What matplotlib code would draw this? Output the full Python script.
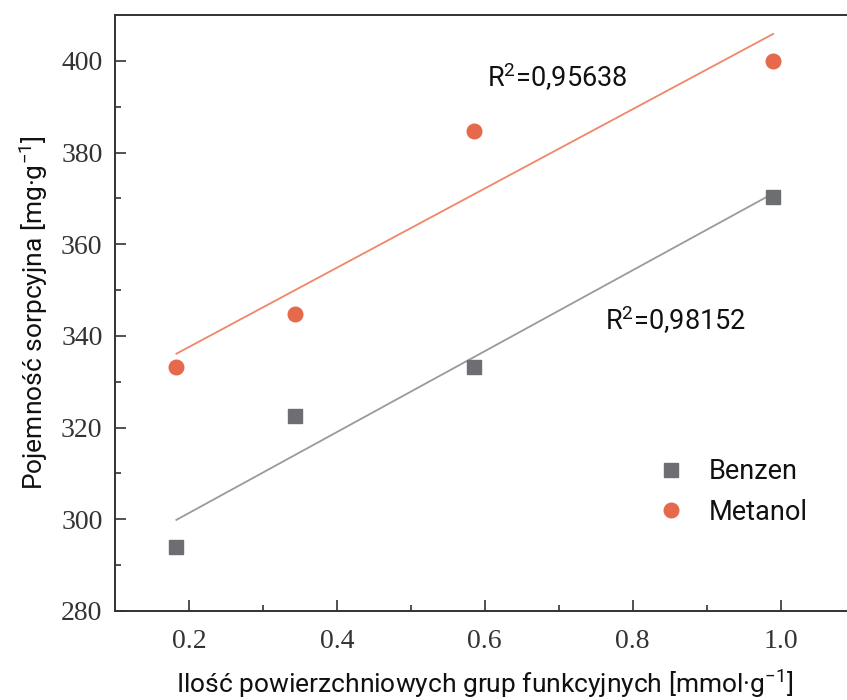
import numpy as np
import matplotlib
matplotlib.use("Agg")
import matplotlib.pyplot as plt

plt.rcParams['font.family'] = ['Roboto', 'DejaVu Sans']
plt.rcParams['mathtext.fontset'] = 'custom'
plt.rcParams['mathtext.rm'] = 'Roboto'
plt.rcParams['mathtext.it'] = 'Roboto:italic'

# functional groups [mmol/g] vs sorption capacity [mg/g]
groups = [0.183, 0.343, 0.585, 0.990]
benzen = [294.0, 322.6, 333.3, 370.4]
metanol = [333.3, 344.8, 384.7, 400.0]
r2_benzen = '0,98152'
r2_metanol = '0,95638'

gray = '#6d6e71'
gray_line = '#9a9a9a'
orange = '#e5694a'
orange_line = '#f0866a'

fig = plt.figure(figsize=(8.47, 7.0), dpi=100)
ax = fig.add_axes([115 / 847, 89 / 700, 739.5 / 847, 596 / 700])

x = np.array(groups)
xx = np.array([x.min(), x.max()])
for y, c_line in [(benzen, gray_line), (metanol, orange_line)]:
    k, b = np.polyfit(x, y, 1)
    ax.plot(xx, k * xx + b, color=c_line, lw=1.3, zorder=2)

ax.plot(groups, benzen, 's', color=gray, ms=9.5, label='Benzen', zorder=3)
ax.plot(groups, metanol, 'o', color=orange, ms=10.5, label='Metanol', zorder=3)

ax.text(0.603, 396.5, 'R$^{2}$=' + r2_metanol, fontsize=19.5, va='center', color='#111111')
ax.text(0.762, 343.5, 'R$^{2}$=' + r2_benzen, fontsize=19.5, va='center', color='#111111')

ax.set_xlim(0.1, 1.1)
ax.set_ylim(280, 410)
ax.set_xticks([0.2, 0.4, 0.6, 0.8, 1.0])
ax.set_xticks([0.3, 0.5, 0.7, 0.9], minor=True)
ax.set_yticks([280, 300, 320, 340, 360, 380, 400])
ax.set_yticks([290, 310, 330, 350, 370, 390], minor=True)

for lab in ax.get_xticklabels() + ax.get_yticklabels():
    lab.set_family('Liberation Serif')
ax.tick_params(which='both', direction='in', colors='#333333', width=1.2)
ax.tick_params(which='major', length=8, labelsize=20, pad=9)
ax.tick_params(axis='x', which='major', pad=13)
ax.tick_params(which='minor', length=4.5)
for s in ax.spines.values():
    s.set_linewidth(1.4)
    s.set_color('#333333')

ax.set_xlabel('Ilość powierzchniowych grup funkcyjnych [mmol·g$^{\\mathregular{-1}}$]',
              fontsize=19, labelpad=10, color='#111111')
ax.set_ylabel('Pojemność sorpcyjna [mg·g$^{\\mathregular{-1}}$]', fontsize=19, labelpad=8,
              color='#111111')

ax.legend(loc='center left', bbox_to_anchor=(0.7, 0.2), frameon=False, fontsize=19.5,
          handlelength=1.0, handletextpad=0.9, labelspacing=0.5, labelcolor='#111111')

fig.savefig('out.png', dpi=100)
